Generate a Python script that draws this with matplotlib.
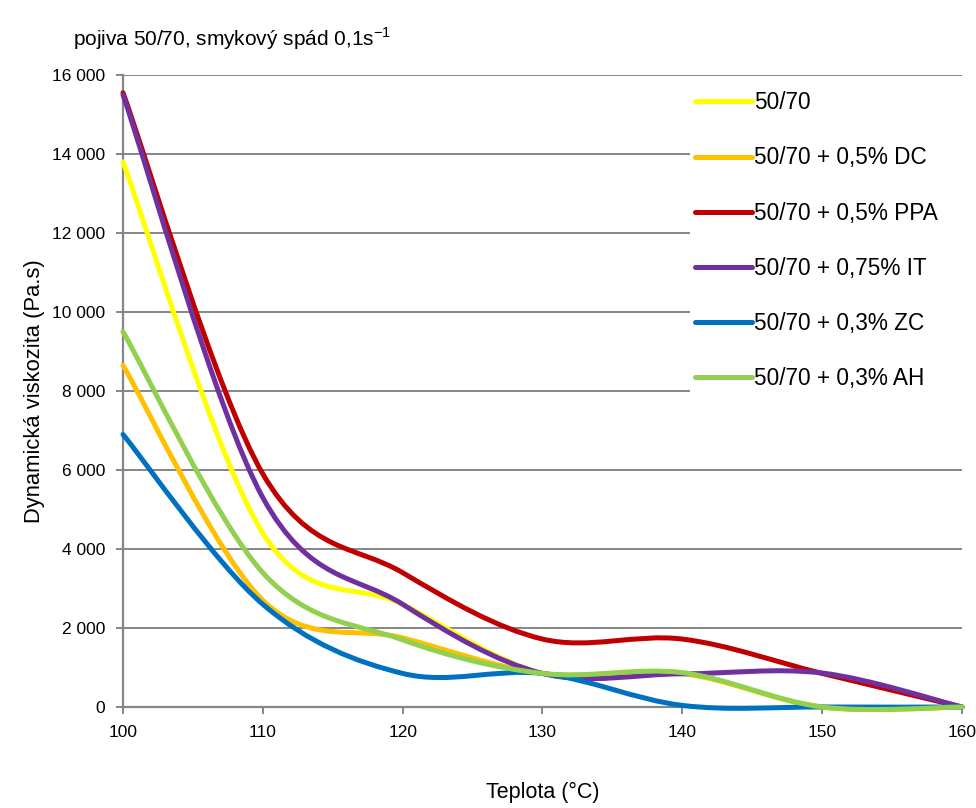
import numpy as np
import matplotlib
matplotlib.use("Agg")
import matplotlib.pyplot as plt
from matplotlib.path import Path
from matplotlib.patches import PathPatch, Rectangle
from matplotlib.lines import Line2D
from matplotlib.ticker import FuncFormatter, MultipleLocator

plt.rcParams['font.family'] = ['Liberation Sans', 'DejaVu Sans']
plt.rcParams['mathtext.fontset'] = 'custom'
plt.rcParams['mathtext.rm'] = 'Liberation Sans'

# temperature (°C) and dynamic viscosity (Pa.s) at shear rate 0.1 1/s
teplota = [100, 110, 120, 130, 140, 150, 160]
v_5070 = [13800, 4400, 2600, 850, 850, 0, 0]
v_dc = [8650, 2700, 1750, 850, 850, 0, 0]
v_ppa = [15550, 5900, 3400, 1720, 1720, 850, 0]
v_it = [15500, 5300, 2600, 850, 840, 860, 0]
v_zc = [6900, 2600, 850, 850, 40, 0, 0]
v_ah = [9500, 3400, 1700, 850, 870, 0, 0]

labels = ['50/70', '50/70 + 0,5% DC', '50/70 + 0,5% PPA',
          '50/70 + 0,75% IT', '50/70 + 0,3% ZC', '50/70 + 0,3% AH']
colors = ['#FFFF00', '#FFC000', '#C00000', '#7030A0', '#0070C0', '#92D050']
series = [v_5070, v_dc, v_ppa, v_it, v_zc, v_ah]


def smooth_path(x, y):
    # Excel-like smoothed line: cubic Bezier segments (Catmull-Rom control points)
    p = np.column_stack([x, y]).astype(float)
    n = len(p)
    verts = [p[0]]
    codes = [Path.MOVETO]
    for i in range(n - 1):
        p0 = p[max(i - 1, 0)]
        p1 = p[i]
        p2 = p[i + 1]
        p3 = p[min(i + 2, n - 1)]
        c1 = p1 + (p2 - p0) / 6.0
        c2 = p2 - (p3 - p1) / 6.0
        verts += [c1, c2, p2]
        codes += [Path.CURVE4] * 3
    return Path(verts, codes)


W, H = 976, 808
fig = plt.figure(figsize=(W / 100, H / 100), dpi=100)
ax = fig.add_axes([123 / W, 1 - 707 / H, (962 - 123) / W, (707 - 75) / H])

grey = '#868686'
ax.set_xlim(100, 160)
ax.set_ylim(0, 16000)
ax.xaxis.set_major_locator(MultipleLocator(10))
ax.yaxis.set_major_locator(MultipleLocator(2000))
ax.yaxis.set_major_formatter(FuncFormatter(lambda v, pos: f'{int(v):,}'.replace(',', ' ')))
ax.yaxis.grid(True, color=grey, lw=1.4)
ax.set_axisbelow(True)
for s in ['top', 'right']:
    ax.spines[s].set_visible(False)
for s in ['left', 'bottom']:
    ax.spines[s].set_color(grey)
    ax.spines[s].set_linewidth(1.6)
ax.tick_params(axis='both', colors=grey, length=5, width=1.4, labelsize=12.5,
               labelcolor='black', pad=8)

for vals, col in zip(series, colors):
    patch = PathPatch(smooth_path(teplota, vals), facecolor='none', edgecolor=col,
                      lw=3.6, capstyle='round', joinstyle='round', clip_on=False, zorder=3)
    ax.add_patch(patch)

# white panel behind the legend
ax.add_patch(Rectangle((0.676, 0.478), 0.324, 0.506, transform=ax.transAxes,
                       facecolor='white', edgecolor='none', zorder=1))

handles = [Line2D([], [], color=c, lw=3.6, solid_capstyle='round') for c in colors]
fig.legend(handles, labels, loc='upper left', bbox_to_anchor=(684 / W, 1 - 80 / H),
           frameon=False, fontsize=16.3, borderpad=0, labelspacing=1.42,
           handlelength=2.5, handletextpad=0.1)

ax.set_xlabel('Teplota (°C)', fontsize=15.5, labelpad=30)
ax.set_ylabel('Dynamická viskozita (Pa.s)', fontsize=15.8, labelpad=5)
fig.text(73 / W, 1 - 39 / H, r'pojiva 50/70, smykový spád 0,1s$^{\mathregular{-1}}$',
         fontsize=15, ha='left', va='center')

fig.savefig('out.png', dpi=100)
